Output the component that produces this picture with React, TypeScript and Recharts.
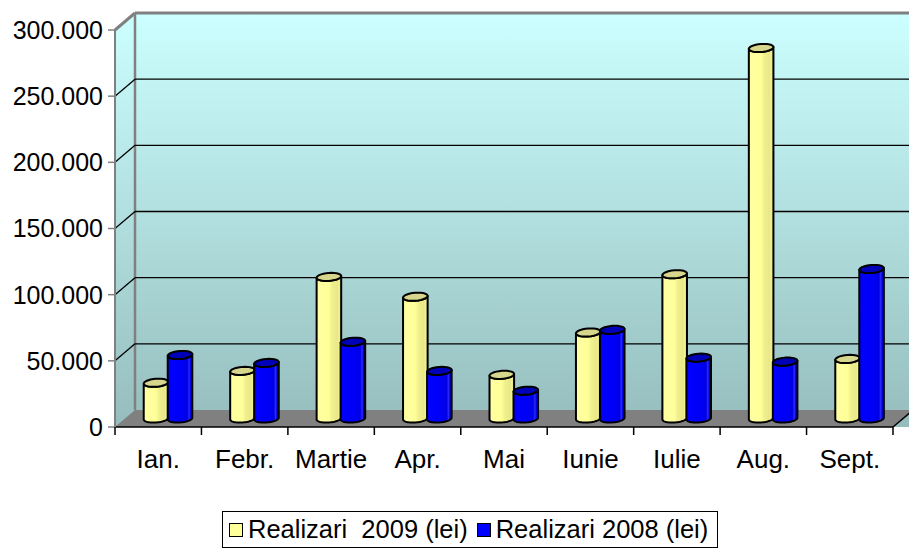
import React from 'react';
import { BarChart, Bar, XAxis, YAxis, CartesianGrid, Legend } from 'recharts';

const months = ['Ian.', 'Febr.', 'Martie', 'Apr.', 'Mai', 'Iunie', 'Iulie', 'Aug.', 'Sept.'];
const realizari2009 = [27000, 36000, 107000, 92000, 33000, 65000, 109000, 280000, 45000];
const realizari2008 = [48000, 42000, 58000, 36000, 21000, 67000, 46000, 43000, 113000];
const yTicks = [0, 50000, 100000, 150000, 200000, 250000, 300000];
const seriesNames = ['Realizari  2009 (lei)', 'Realizari 2008 (lei)'];
const seriesColors = ['#FFFF99', '#0000FF'];

const data = months.map((m, i) => ({ month: m, r2009: realizari2009[i], r2008: realizari2008[i] }));

// layout of the front plane and depth of the 3d box
const W = 909;
const H = 552;
const LEFT = 115;
const RIGHT = 893;
const TOP = 30;
const BOTTOM = 427;
const DX = 20;
const DY = 17;
const FONT = '"Liberation Sans", Arial, sans-serif';

const fmt = (v: number) => String(v).replace(/\B(?=(\d{3})+(?!\d))/g, '.');

// oblique projection of the cylinder's round cap
const S = 0.22;
const K = 0.34;
const pt = (cx: number, cy: number, r: number, t: number) => [
  cx + r * Math.cos(t) + S * r * Math.sin(t),
  cy - K * r * Math.sin(t),
];
const arcPts = (cx: number, cy: number, r: number, t1: number, t2: number, n = 28) => {
  let d = '';
  for (let i = 0; i <= n; i++) {
    const [px, py] = pt(cx, cy, r, t1 + ((t2 - t1) * i) / n);
    d += `L${px.toFixed(2)},${py.toFixed(2)}`;
  }
  return d;
};

function Cylinder(props: any) {
  const { x, y, width, height, grad, cap } = props;
  if (width == null || !(height > 0)) return null;
  const r = width / 2;
  const cx = x + r + DX / 2;
  const yTop = y - DY / 2;
  const yBot = y + height - DY / 2;
  const t0 = Math.atan(S);
  const a = t0 + Math.PI;
  const b = t0 + 2 * Math.PI;
  const [lx, ly] = pt(cx, yTop, r, a);
  const body = `M${lx},${ly}` + arcPts(cx, yBot, r, a, b) + arcPts(cx, yTop, r, b, a) + 'Z';
  const capD = 'M' + arcPts(cx, yTop, r, 0, 2 * Math.PI).slice(1) + 'Z';
  return (
    <g>
      <path d={body} fill={`url(#${grad})`} stroke="#000" strokeWidth={2} strokeLinejoin="round" />
      <path d={capD} fill={cap} stroke="#000" strokeWidth={2} strokeLinejoin="round" />
    </g>
  );
}

function GridLine({ x1, x2, y1 }: any) {
  if (Math.abs(y1 - BOTTOM) < 1) return null;
  const top = Math.abs(y1 - TOP) < 1;
  const stroke = top ? '#808080' : '#000';
  const sw = top ? 3 : 1.3;
  return (
    <g>
      <line x1={x1} y1={y1} x2={x1 + DX} y2={y1 - DY} stroke={stroke} strokeWidth={sw} />
      <line x1={x1 + DX} y1={y1 - DY} x2={x2 + DX} y2={y1 - DY} stroke={stroke} strokeWidth={sw} />
    </g>
  );
}

function MonthTick(props: any) {
  const { x, y, payload, index } = props;
  const band = (RIGHT - LEFT) / months.length;
  const left = x - band / 2;
  return (
    <g>
      <line x1={left} y1={y} x2={left} y2={y + 8} stroke="#000" strokeWidth={1.5} />
      {index === months.length - 1 && (
        <line x1={left + band} y1={y} x2={left + band} y2={y + 8} stroke="#000" strokeWidth={1.5} />
      )}
      <text x={x} y={y + 41} textAnchor="middle" fontSize={26} fontFamily={FONT} fill="#000">
        {payload.value}
      </text>
    </g>
  );
}

function LegendBox() {
  return (
    <div
      style={{
        display: 'flex',
        alignItems: 'center',
        boxSizing: 'border-box',
        width: 496,
        height: 37,
        border: '1px solid #000',
        background: '#fff',
        padding: '0 6px',
        fontFamily: FONT,
        fontSize: 25.5,
        lineHeight: '29px',
        color: '#000',
        whiteSpace: 'pre',
      }}
    >
      {seriesNames.map((n, i) => (
        <span key={n} style={{ display: 'inline-flex', alignItems: 'center', marginLeft: i ? 9 : 0 }}>
          <span
            style={{
              display: 'inline-block',
              width: 12,
              height: 12,
              border: '1px solid #000',
              background: seriesColors[i],
              marginRight: 5,
            }}
          />
          {n}
        </span>
      ))}
    </div>
  );
}

export default function App() {
  return (
    <div style={{ position: 'absolute', left: 0, top: 0, width: W, height: H, background: '#fff', overflow: 'hidden' }}>
      <svg width={W} height={H} style={{ position: 'absolute', left: 0, top: 0 }}>
        <defs>
          <linearGradient id="wallGrad" gradientUnits="userSpaceOnUse" x1="0" y1={TOP - DY} x2="0" y2={BOTTOM}>
            <stop offset="0" stopColor="#CCFFFF" />
            <stop offset="1" stopColor="#96BDBD" />
          </linearGradient>
          <linearGradient id="gradYellow" x1="0" y1="0" x2="1" y2="0">
            <stop offset="0" stopColor="#FFFFA2" />
            <stop offset="0.5" stopColor="#FFFF99" />
            <stop offset="0.62" stopColor="#F0F08E" />
            <stop offset="0.85" stopColor="#E8E888" />
            <stop offset="0.9" stopColor="#F2F292" />
            <stop offset="1" stopColor="#DEDE82" />
          </linearGradient>
          <linearGradient id="gradBlue" x1="0" y1="0" x2="1" y2="0">
            <stop offset="0" stopColor="#0000FF" />
            <stop offset="0.6" stopColor="#0000F6" />
            <stop offset="0.8" stopColor="#0000E2" />
            <stop offset="0.87" stopColor="#2A2AFF" />
            <stop offset="0.93" stopColor="#0000E0" />
            <stop offset="1" stopColor="#0000CC" />
          </linearGradient>
        </defs>
        <polygon
          points={`${LEFT},${BOTTOM} ${LEFT},${TOP} ${LEFT + DX},${TOP - DY} ${W + DX},${TOP - DY} ${W + DX},${BOTTOM} `}
          fill="url(#wallGrad)"
        />
        <polygon
          points={`${LEFT},${BOTTOM} ${RIGHT},${BOTTOM} ${RIGHT + DX},${BOTTOM - DY} ${LEFT + DX},${BOTTOM - DY}`}
          fill="#808080"
        />
        <line x1={LEFT + DX} y1={TOP - DY} x2={LEFT + DX} y2={BOTTOM - DY} stroke="#808080" strokeWidth={2.5} />
        <line x1={RIGHT} y1={BOTTOM} x2={RIGHT + DX} y2={BOTTOM - DY} stroke="#000" strokeWidth={1.5} />
      </svg>
      <div style={{ position: 'absolute', left: 0, top: 0 }}>
        <BarChart
          width={W}
          height={H}
          data={data}
          margin={{ top: TOP, right: W - RIGHT, left: 0, bottom: 0 }}
          barCategoryGap="22%"
          barGap={0}
        >
          <CartesianGrid
            vertical={false}
            horizontal={(p: any) => <GridLine key={`g${p.index}`} x1={p.x1} x2={p.x2} y1={p.y1} />}
          />
          <XAxis
            dataKey="month"
            interval={0}
            height={H - BOTTOM}
            tickSize={0}
            tickMargin={0}
            tickLine={false}
            axisLine={{ stroke: '#000', strokeWidth: 1.5 }}
            tick={<MonthTick />}
          />
          <YAxis
            width={LEFT}
            domain={[0, 300000]}
            ticks={yTicks}
            interval={0}
            tickFormatter={fmt}
            tickSize={7}
            tickMargin={5}
            axisLine={{ stroke: '#808080', strokeWidth: 2 }}
            tickLine={{ stroke: '#808080', strokeWidth: 1.5 }}
            tick={{ fill: '#000', fontSize: 25, fontFamily: FONT }}
          />
          <Legend
            layout="horizontal"
            verticalAlign="middle"
            align="center"
            wrapperStyle={{ left: 222, top: 511, width: 'auto', height: 'auto' }}
            content={() => <LegendBox />}
          />
          <Bar
            dataKey="r2009"
            name={seriesNames[0]}
            fill={seriesColors[0]}
            isAnimationActive={false}
            shape={(p: any) => <Cylinder {...p} grad="gradYellow" cap="#D6D68C" />}
          />
          <Bar
            dataKey="r2008"
            name={seriesNames[1]}
            fill={seriesColors[1]}
            isAnimationActive={false}
            shape={(p: any) => <Cylinder {...p} grad="gradBlue" cap="#0000B8" />}
          />
        </BarChart>
      </div>
    </div>
  );
}
